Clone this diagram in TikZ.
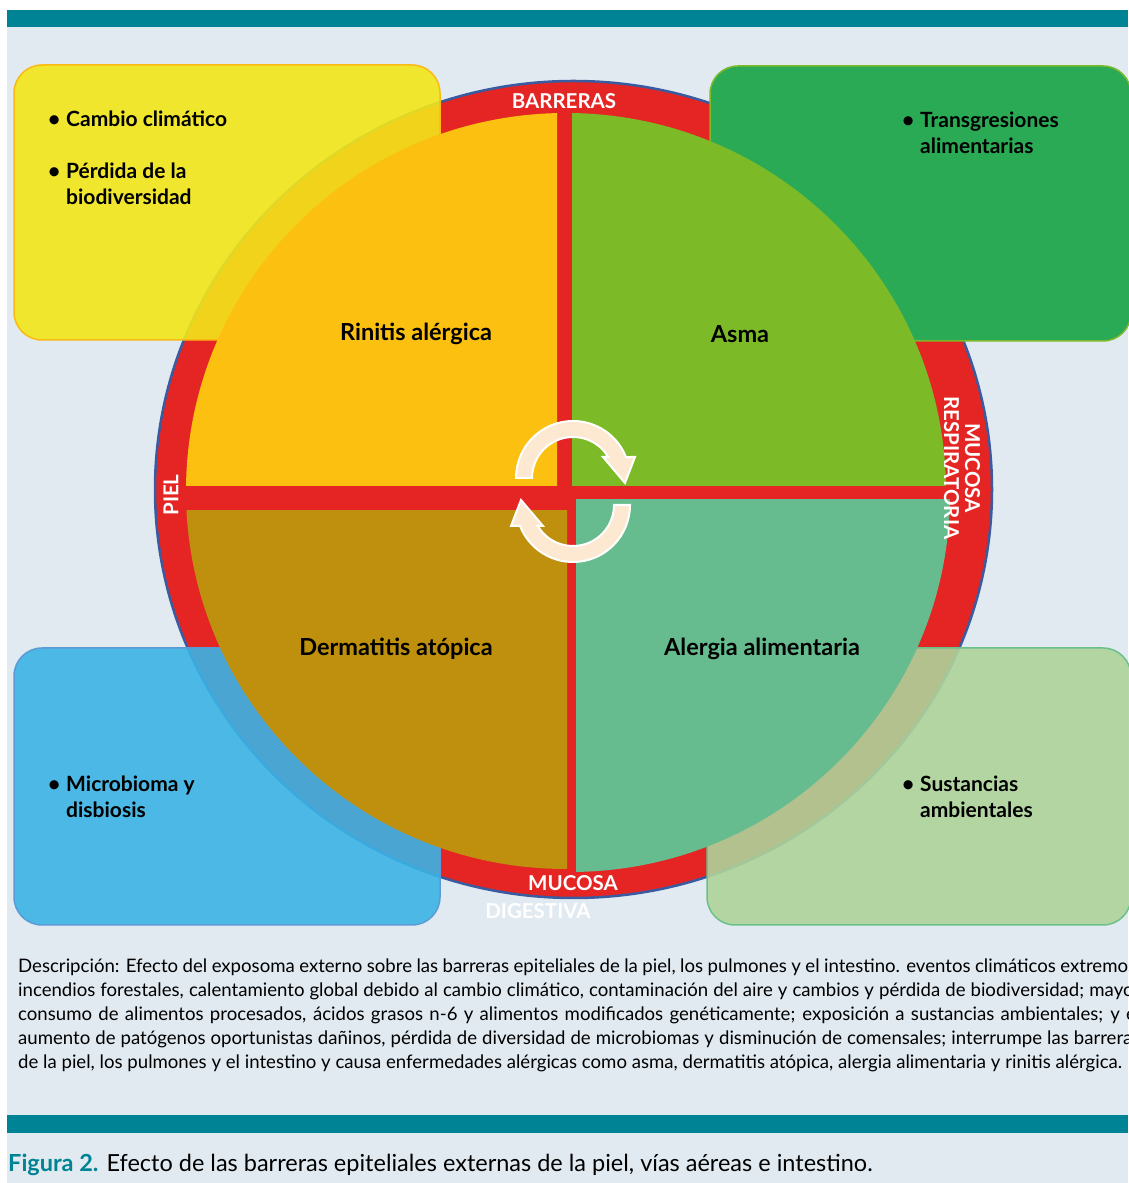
\documentclass[tikz,border=0pt]{standalone}
\usepackage{fontspec}
\setmainfont{Lato}
\definecolor{barteal}{HTML}{008394}
\definecolor{panel}{HTML}{E1EAF1}
\definecolor{ringred}{HTML}{E42524}
\definecolor{ringblue}{HTML}{3A5BA0}
\definecolor{quadyellow}{HTML}{FCC010}
\definecolor{quadgreen}{HTML}{7DBA28}
\definecolor{quadbrown}{HTML}{BF900D}
\definecolor{quadteal}{HTML}{66BC8E}
\definecolor{boxyellow}{HTML}{F2E619}
\definecolor{edgeyellow}{HTML}{FBBA12}
\definecolor{boxgreen}{HTML}{2BAA55}
\definecolor{edgegreen}{HTML}{7DBA28}
\definecolor{boxblue}{HTML}{3BB3E5}
\definecolor{edgeblue}{HTML}{5B9BD5}
\definecolor{boxlime}{HTML}{AED39A}
\definecolor{edgelime}{HTML}{6CC08A}
\definecolor{arrowcream}{HTML}{FDE9D2}
\def\blt{\makebox[18pt][l]{\textbullet}}
\tikzset{turn/.pic={
    \filldraw[turnfill] (180:57) arc[start angle=180,end angle=21.6,radius=57]
      -- (62,21) -- (52,-5) -- (30,21) -- (30.8:41)
      arc[start angle=30.8,end angle=180,radius=41] -- cycle;
}}

\begin{document}
\begin{tikzpicture}[x=1pt,y=1pt,
    disease/.style={font=\fontsize{23.5}{26}\selectfont\bfseries},
    ringtext/.style={font=\fontsize{20.5}{21}\selectfont\bfseries,text=white,align=center,inner sep=0pt},
    boxtext/.style={font=\fontsize{21}{26}\selectfont\bfseries,anchor=base west,inner sep=0pt},
    factor/.style={rounded corners=28pt,line width=1.5pt},
    turnfill/.style={fill=arrowcream,draw=white,line width=2pt}]
    \useasboundingbox (0,0) rectangle (1128,1183);
    % Background
    \fill[white] (0,0) rectangle (1128,1183);
    \fill[panel] (7,0) rectangle (1128,1156);
    \fill[barteal] (7,1156) rectangle (1128,1173);
    \fill[barteal] (7,50) rectangle (1128,68);
    % Ring
    \filldraw[fill=ringred,draw=ringblue,line width=2.5pt] (573.5,693.5) ellipse [x radius=418.5,y radius=408.5];
    % Boxes
    \filldraw[factor,fill=boxyellow,draw=edgeyellow,fill opacity=0.9] (14,843) rectangle (440,1118);
    \filldraw[factor,fill=boxgreen,draw=edgegreen] (710,842) rectangle (1131,1117);
    \filldraw[factor,fill=boxblue,draw=edgeblue,fill opacity=0.9] (14,258) rectangle (440,535);
    \filldraw[factor,fill=boxlime,draw=edgelime,fill opacity=0.9] (707,258) rectangle (1131,535);
    % Quadrants
    \begin{scope}
        \clip (0,697) rectangle (557,1183);
        \fill[quadyellow] (566,692) ellipse [x radius=380,y radius=378];
    \end{scope}
    \begin{scope}
        \clip (572,697) rectangle (1128,1183);
        \fill[quadgreen] (566,692) ellipse [x radius=380,y radius=378];
    \end{scope}
    \begin{scope}
        \clip (0,0) rectangle (567,672);
        \fill[quadbrown] (566,692) ellipse [x radius=380,y radius=378];
    \end{scope}
    \begin{scope}
        \clip (576,0) rectangle (1128,683);
        \fill[quadteal] (570,689) ellipse [x radius=380,y radius=378];
    \end{scope}
    % Cycle arrows
    \pic (upturn) at (573,705) {turn};
    \pic[rotate=180] (downturn) at (573,678) {turn};
    % Diseases
    \node[disease] (rinitis) at (416,849) {Rinitis alérgica};
    \node[disease] (asma) at (740,849) {Asma};
    \node[disease] (dermatitis) at (396,534) {Dermatitis atópica};
    \node[disease] (alergia) at (762,534) {Alergia alimentaria};
    % Barriers
    \node[ringtext] (barreras) at (564,1082) {BARRERAS};
    \node[ringtext,rotate=90] (piel) at (171,688) {PIEL};
    \node[ringtext,rotate=-90] (respiratoria) at (962,715) {MUCOSA\\RESPIRATORIA};
    \node[ringtext] (mucosa) at (573,300) {MUCOSA};
    \node[ringtext] (digestiva) at (538,272) {DIGESTIVA};
    % Factors
    \node[boxtext] (cambio) at (48,1056) {\blt Cambio climático};
    \node[boxtext] (perdida) at (48,1004) {\begin{tabular}[t]{@{}l@{}}\blt Pérdida de la\\ \hspace{18pt}biodiversidad\end{tabular}};
    \node[boxtext] (transgresiones) at (902,1055) {\begin{tabular}[t]{@{}l@{}}\blt Transgresiones\\ \hspace{18pt}alimentarias\end{tabular}};
    \node[boxtext] (microbioma) at (48,391) {\begin{tabular}[t]{@{}l@{}}\blt Microbioma y\\ \hspace{18pt}disbiosis\end{tabular}};
    \node[boxtext] (sustancias) at (902,391) {\begin{tabular}[t]{@{}l@{}}\blt Sustancias\\ \hspace{18pt}ambientales\end{tabular}};
    % Description
    \node[anchor=base west,inner sep=0pt,align=left,font=\fontsize{18.6}{24}\selectfont] (descripcion) at (18,114) {%
        \makebox[1122pt][s]{Descripción: Efecto del exposoma externo sobre las barreras epiteliales de la piel, los pulmones y el intestino. eventos climáticos extremos,}\\
        \makebox[1122pt][s]{incendios forestales, calentamiento global debido al cambio climático, contaminación del aire y cambios y pérdida de biodiversidad; mayor}\\
        \makebox[1122pt][s]{consumo de alimentos procesados, ácidos grasos n-6 y alimentos modificados genéticamente; exposición a sustancias ambientales; y el}\\
        \makebox[1122pt][s]{aumento de patógenos oportunistas dañinos, pérdida de diversidad de microbiomas y disminución de comensales; interrumpe las barreras}\\
        de la piel, los pulmones y el intestino y causa enfermedades alérgicas como asma, dermatitis atópica, alergia alimentaria y rinitis alérgica.};
    % Caption
    \node[anchor=base west,inner sep=0pt,font=\fontsize{23.5}{26}\selectfont] (caption) at (8,11) {\textcolor{barteal}{\bfseries Figura 2.} Efecto de las barreras epiteliales externas de la piel, vías aéreas e intestino.};
\end{tikzpicture}
\end{document}
